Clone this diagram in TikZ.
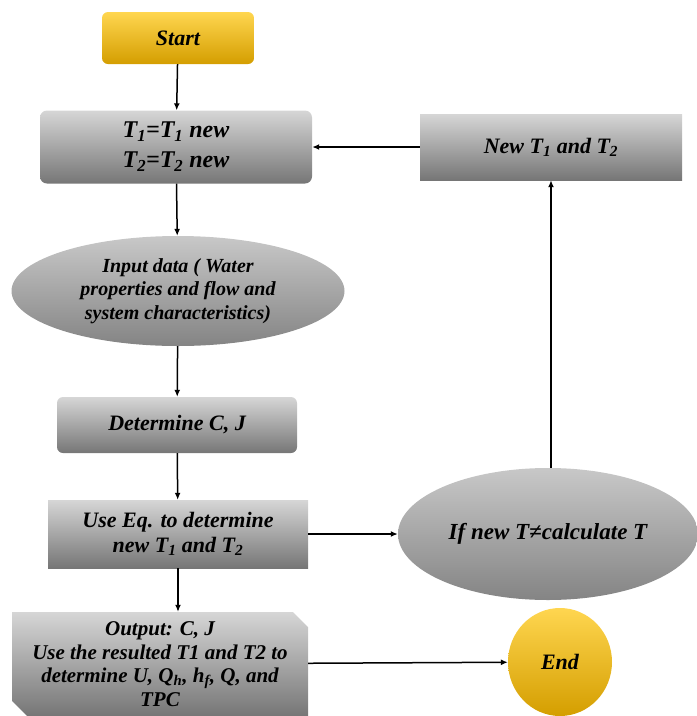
\documentclass[tikz,border=0pt]{standalone}
\usepackage{fontspec}
\setmainfont{Liberation Serif}
\usetikzlibrary{positioning,arrows.meta,shapes.geometric,shapes.misc}
\definecolor{flgoldtop}{RGB}{255,214,80}
\definecolor{flgoldbot}{RGB}{212,158,0}
\definecolor{flgraytop}{RGB}{214,214,214}
\definecolor{flgraybot}{RGB}{118,118,118}
\definecolor{flelltop}{RGB}{200,200,200}
\definecolor{flellbot}{RGB}{132,132,132}

\begin{document}
\begin{tikzpicture}[x=1pt, y=-1pt, every node/.style={font=\fontsize{22}{25}\selectfont\bfseries\itshape}]
  \tikzset{
    goldbox/.style={rounded corners=6pt, top color=flgoldtop, bottom color=flgoldbot, align=center, inner sep=0pt},
    graybox/.style={top color=flgraytop, bottom color=flgraybot, align=center, inner sep=0pt},
    grayell/.style={ellipse, top color=flelltop, bottom color=flellbot, align=center, inner sep=0pt},
    goldell/.style={ellipse, top color=flgoldtop, bottom color=flgoldbot, inner sep=0pt},
    flow/.style={-{Latex[length=7pt,width=6pt]}, line width=1.5pt}
  }
  \useasboundingbox (0,0) rectangle (697,716);

  % left column
  \node[goldbox, minimum width=152pt, minimum height=52pt] (start) at (178,38) {Start};
  \node[graybox, rounded corners=7pt, minimum width=272pt, minimum height=73pt,
    font=\fontsize{24}{30}\selectfont\bfseries\itshape] (setT) at (176,147)
    {T\textsubscript{1}=T\textsubscript{1} new\\T\textsubscript{2}=T\textsubscript{2} new};
  \node[grayell, minimum width=333pt, minimum height=110pt,
    font=\fontsize{20}{23.5}\selectfont\bfseries\itshape] (input) at (178,291)
    {Input data ( Water\\properties and flow and\\system characteristics)};
  \node[graybox, rounded corners=6pt, minimum width=240pt, minimum height=56pt] (detCJ) at (177,425) {Determine C, J};
  \node[graybox, minimum width=260pt, minimum height=68pt] (useEq) at (178,534)
    {Use Eq. to determine\\new T\textsubscript{1} and T\textsubscript{2}};
  \node[graybox, chamfered rectangle, chamfered rectangle corners={north east,south west},
    chamfered rectangle xsep=12pt, minimum width=296pt, minimum height=104pt,
    font=\fontsize{21}{23.5}\selectfont\bfseries\itshape] (outp) at (160,664)
    {Output: C, J\\Use the resulted T1 and T2 to\\determine U, Q\textsubscript{h}, h\textsubscript{f}, Q, and\\TPC};

  % right column
  \node[graybox, minimum width=262pt, minimum height=66pt] (newT) at (551,147)
    {New T\textsubscript{1} and T\textsubscript{2}};
  \node[grayell, minimum width=300pt, minimum height=132pt,
    font=\fontsize{23}{26}\selectfont\bfseries\itshape] (ifT) at (548,534) {If new T≠calculate T};
  \node[goldell, minimum width=104pt, minimum height=108pt] (fin) at (560,662) {End};

  % connectors
  \draw[flow] (start) -- (setT);
  \draw[flow] (setT) -- (input);
  \draw[flow] (input) -- (detCJ);
  \draw[flow] (detCJ) -- (useEq);
  \draw[flow] (useEq) -- (useEq |- outp.north);
  \draw[flow] (useEq) -- (ifT);
  \draw[flow] (ifT.north -| newT.south) -- (newT.south);
  \draw[flow] (newT) -- (setT);
  \draw[flow] (outp) -- (fin);
\end{tikzpicture}
\end{document}
